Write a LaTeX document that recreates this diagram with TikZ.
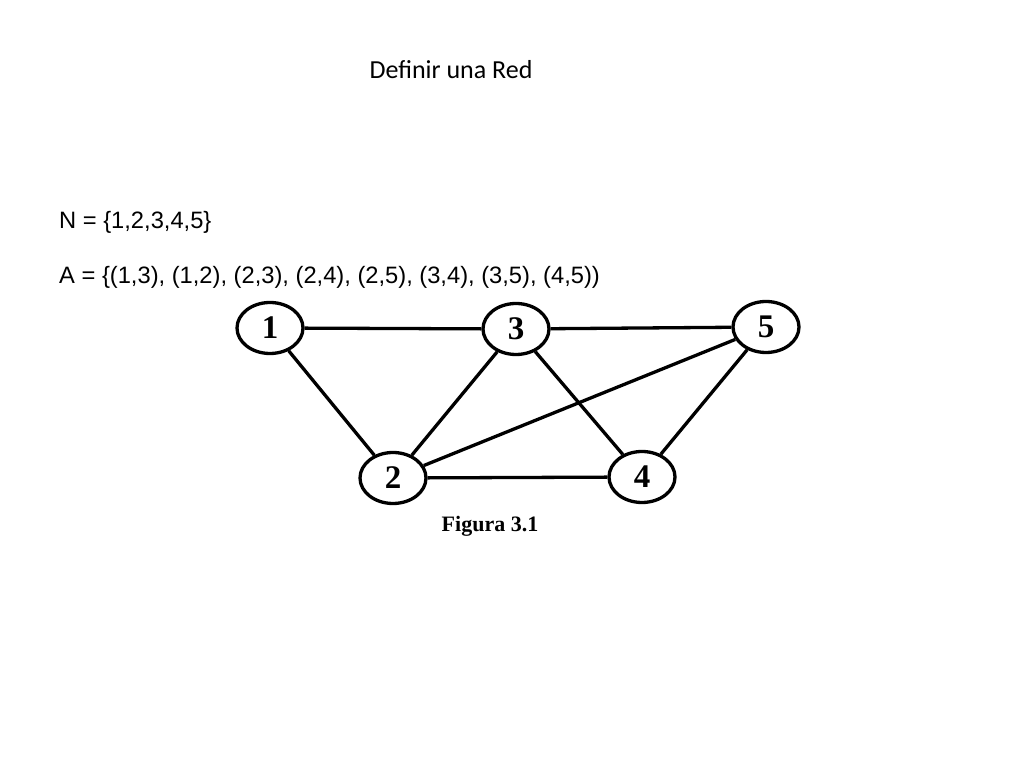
\documentclass[tikz,border=0pt]{standalone}
\usepackage{fontspec}
\setmainfont{Liberation Serif}
\newfontfamily\calfont{Carlito}
\newfontfamily\arialfont{Liberation Sans}
\usetikzlibrary{shapes.geometric}
\begin{document}
\begin{tikzpicture}[x=1pt,y=1pt,
  vert/.style={draw,line width=3.3pt,ellipse,minimum width=66pt,minimum height=51pt,inner sep=0pt,font=\fontsize{33}{33}\selectfont\bfseries},
  edge/.style={line width=3.3pt}]
\useasboundingbox (0,0) rectangle (1024,768);
\node[font=\calfont\fontsize{26}{26}\selectfont] (title) at (451,698) {Definir una Red};
\node[anchor=base west,inner sep=0pt,font=\arialfont\fontsize{23.7}{23.7}\selectfont] (N) at (59,539) {N = \{1,2,3,4,5\}};
\node[anchor=base west,inner sep=0pt,font=\arialfont\fontsize{23.7}{23.7}\selectfont] (A) at (59,484) {A = \{(1,3), (1,2), (2,3), (2,4), (2,5), (3,4), (3,5), (4,5))};
\node[vert] (n1) at (270,440) {1};
\node[vert] (n3) at (516,439) {3};
\node[vert] (n5) at (766,441) {5};
\node[vert] (n2) at (393,290) {2};
\node[vert] (n4) at (642,291) {4};
\draw[edge] (n1) -- (n3);
\draw[edge] (n3) -- (n5);
\draw[edge] (n1) -- (n2);
\draw[edge] (n2) -- (n3);
\draw[edge] (n2) -- (n5);
\draw[edge] (n3) -- (n4);
\draw[edge] (n2) -- (n4);
\draw[edge] (n4) -- (n5);
\node[font=\fontsize{22}{22}\selectfont\bfseries] (fig) at (490,242) {Figura 3.1};
\end{tikzpicture}
\end{document}
